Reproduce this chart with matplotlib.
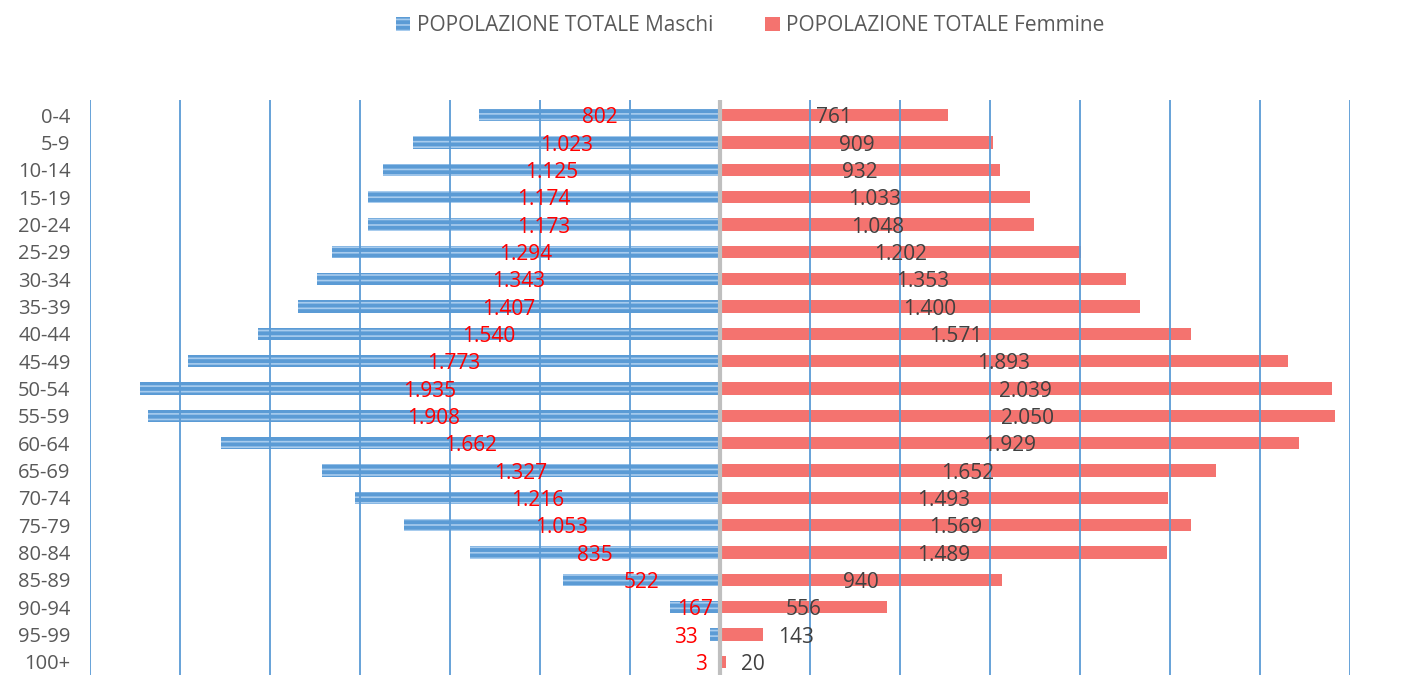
import numpy as np
import matplotlib.pyplot as plt

plt.rcParams['font.family'] = ['Open Sans', 'DejaVu Sans']
plt.rcParams['hatch.linewidth'] = 1.2

eta = ['0-4', '5-9', '10-14', '15-19', '20-24', '25-29', '30-34', '35-39', '40-44', '45-49',
       '50-54', '55-59', '60-64', '65-69', '70-74', '75-79', '80-84', '85-89', '90-94', '95-99', '100+']
maschi = [802, 1023, 1125, 1174, 1173, 1294, 1343, 1407, 1540, 1773,
          1935, 1908, 1662, 1327, 1216, 1053, 835, 522, 167, 33, 3]
femmine = [761, 909, 932, 1033, 1048, 1202, 1353, 1400, 1571, 1893,
           2039, 2050, 1929, 1652, 1493, 1569, 1489, 940, 556, 143, 20]

def fmt(v):
    return f'{v:,}'.replace(',', '.')

fig = plt.figure(figsize=(14.23, 6.75), dpi=100)
ax = fig.add_axes([90 / 1423, 0, 1260 / 1423, 575 / 675])

y = np.arange(len(eta))
m = -np.array(maschi)
f = np.array(femmine)

ax.barh(y, m, height=0.45, color='#5B9BD5', edgecolor='#A8CCEE', hatch='---', linewidth=0,
        label='POPOLAZIONE TOTALE Maschi', zorder=2)
ax.barh(y, f, height=0.45, color='#F4736F', linewidth=0,
        label='POPOLAZIONE TOTALE Femmine', zorder=2)

for xg in np.arange(-2100, 2101, 300):
    if xg == 0:
        continue
    ax.axvline(xg, color='#5B9BD5', lw=1.3, zorder=3)
ax.axvline(0, color='#BFBFBF', lw=3, zorder=4)

for i in range(len(eta)):
    if maschi[i] < 100:
        ax.annotate(fmt(maschi[i]), (m[i], y[i] + 0.1), xytext=(-9, 0), textcoords='offset points',
                    ha='right', va='center', color='#FF0000', fontsize=15, zorder=5)
    else:
        ax.text(m[i] / 2, y[i] + 0.1, fmt(maschi[i]), ha='center', va='center',
                color='#FF0000', fontsize=15, zorder=5)
    if femmine[i] < 150:
        ax.annotate(fmt(femmine[i]), (f[i], y[i] + 0.1), xytext=(11, 0), textcoords='offset points',
                    ha='left', va='center', color='#404040', fontsize=15, zorder=5)
    else:
        ax.text(f[i] / 2, y[i] + 0.1, fmt(femmine[i]), ha='center', va='center',
                color='#404040', fontsize=15, zorder=5)

ax.set_xlim(-2100, 2100)
ax.set_ylim(20.48, -0.55)
ax.set_yticks(y)
ax.set_yticklabels(eta, fontsize=14.5, color='#595959')
ax.tick_params(axis='y', length=0, pad=14)
ax.set_xticks([])
for s in ax.spines.values():
    s.set_visible(False)

fig.legend(loc='upper center', bbox_to_anchor=(0.527, 1.005), ncol=2, frameon=False,
           fontsize=15, handlelength=0.7, handleheight=0.6, columnspacing=2.5, handletextpad=0.3,
           labelcolor='#595959')

fig.savefig('out.png', dpi=100)
